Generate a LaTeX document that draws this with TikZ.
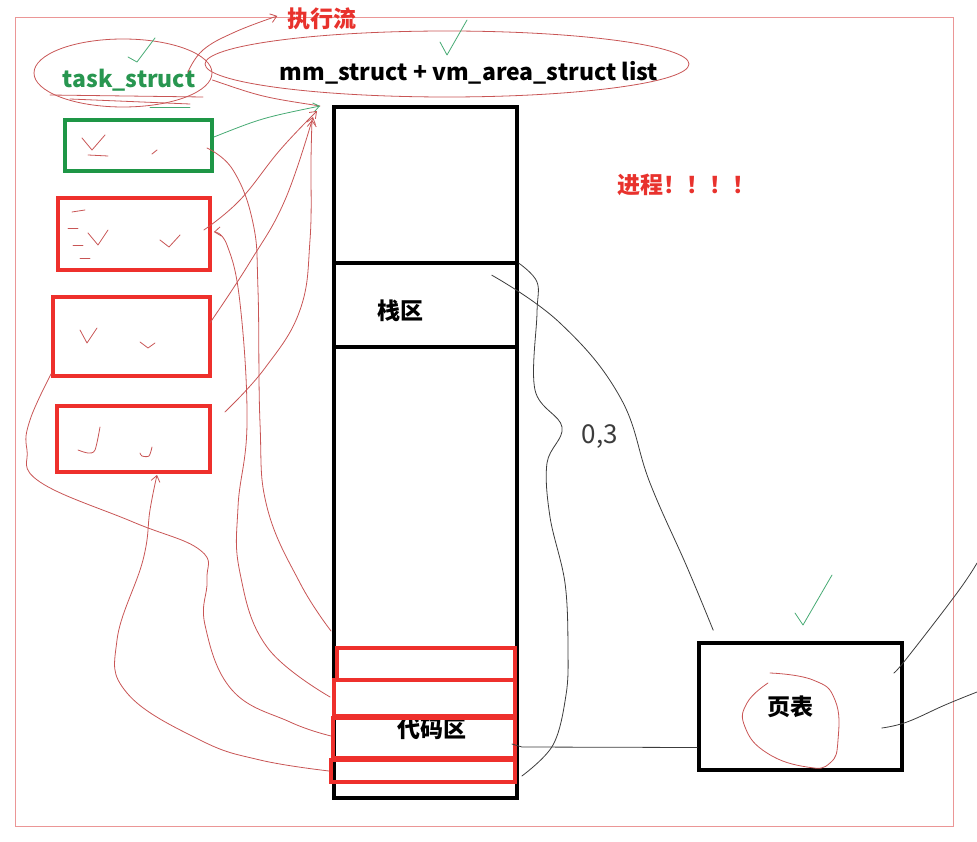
\documentclass[tikz,border=0pt]{standalone}
\usepackage{fontspec}
\setmainfont{Noto Sans CJK SC}
\usetikzlibrary{arrows.meta,shapes.geometric}

\definecolor{boxred}{RGB}{238,48,44}
\definecolor{boxgreen}{RGB}{30,150,70}
\definecolor{textred}{RGB}{232,50,45}
\definecolor{textgreen}{RGB}{40,150,80}
\definecolor{penred}{RGB}{200,85,85}
\definecolor{pengreen}{RGB}{70,170,115}
\definecolor{pengray}{RGB}{60,60,60}
\definecolor{framered}{RGB}{235,150,150}

\begin{document}
\begin{tikzpicture}[x=1pt,y=-1pt,>={Straight Barb[length=6pt,width=9pt]},
  lbl/.style={inner sep=0pt,font=\bfseries\fontsize{23}{26}\selectfont},
  membox/.style={draw=black,line width=3.6pt,inner sep=0pt,minimum width=183pt},
  redbox/.style={draw=boxred,line width=3.8pt,inner sep=0pt},
  pencil/.style={line width=0.8pt,line cap=round,line join=round},
  redink/.style={pencil,draw=penred},
  greenink/.style={pencil,draw=pengreen},
  grayink/.style={pencil,draw=pengray}]
  \useasboundingbox (0,0) rectangle (977,842);
  \node[draw=framered,line width=1pt,inner sep=0pt,minimum width=938pt,minimum height=808pt] (board) at (484,422) {};

  % headings
  \node[lbl,text=textred] (flowlbl) at (322,19) {执行流};
  \node[lbl,text=textred] (proclbl) at (686,185) {进程！！！！};
  \node[lbl,text=textgreen] (tasklbl) at (129,80) {task\_struct};
  \node[lbl] (mmlbl) at (469,73) {mm\_struct + vm\_area\_struct list};
  \node[ellipse,redink,minimum width=178pt,minimum height=68pt] (taskring) at (123,73) {};
  \node[ellipse,redink,minimum width=484pt,minimum height=66pt] (mmring) at (447,64) {};
  \coordinate (mmtip) at (320,106);

  % task boxes
  \node[draw=boxgreen,line width=3.8pt,inner sep=0pt,minimum width=147pt,minimum height=51pt] (tsk) at (138.5,145.5) {};
  \node[redbox,minimum width=152pt,minimum height=72pt] (tskA) at (134,234) {};
  \node[redbox,minimum width=157pt,minimum height=79pt] (tskB) at (131.5,336.5) {};
  \node[redbox,minimum width=153pt,minimum height=66pt] (tskC) at (133.5,439) {};

  % address space
  \node[membox,minimum height=156pt] (memtop) at (425.5,185) {};
  \node[membox,minimum height=84pt] (stack) at (425.5,305) {};
  \node[membox,minimum height=451pt] (memlow) at (425.5,572.5) {};
  \node[lbl] (stacklbl) at (400,311) {栈区};
  \node[lbl] (codelbl) at (432,729) {代码区};
  \node[redbox,minimum width=178pt,minimum height=32pt] (code1) at (426,664) {};
  \node[redbox,minimum width=181pt,minimum height=36pt] (code2) at (424.5,698) {};
  \node[redbox,minimum width=182pt,minimum height=40pt] (code3) at (424,738) {};
  \node[redbox,minimum width=184pt,minimum height=22pt] (code4) at (423,771) {};

  % page table
  \node[membox,minimum width=203pt,minimum height=127pt] (pgtbl) at (800.5,706.5) {};
  \node[lbl] (pgtbllbl) at (790,707) {页表};
  \node[inner sep=0pt,text=pengray,font=\fontsize{26}{28}\selectfont] (ratio) at (600,437) {0,3};
  \coordinate (edgeA) at (977,563);
  \coordinate (edgeB) at (977,692);

  % arrows to mm_struct
  \draw[redink,->] plot[smooth,tension=0.7] coordinates {([xshift=65pt,yshift=1pt]taskring.center) (203,50) (235,32) ([xshift=-10pt,yshift=3pt]flowlbl.west)};
  \draw[redink] ([yshift=-7pt]taskring.east) .. controls (262,97) .. (mmtip);
  \draw[greenink,->] ([yshift=8.5pt]tsk.east) .. controls (262,118) .. (mmtip);
  \draw[redink,->] plot[smooth,tension=0.7] coordinates {([xshift=-8pt,yshift=4pt]tskA.east) (240,200) (280,150) ([xshift=-3pt,yshift=-5pt]mmtip)};
  \draw[redink,->] plot[smooth,tension=0.7] coordinates {([xshift=-2pt,yshift=13.5pt]tskB.east) (250,262) (285,200) ([xshift=-7pt,yshift=-11pt]mmtip)};
  \draw[redink,->] plot[smooth,tension=0.7] coordinates {([xshift=13pt,yshift=27pt]tskC.east) (265,368) (300,310) (310,240) (311,160) ([xshift=-8pt,yshift=-14pt]mmtip)};

  % code to tasks
  \draw[redink] plot[smooth,tension=0.7] coordinates {([xshift=-7pt,yshift=-2.5pt]tsk.east) (233,170) (253,223) (258,290) (260,423) (267,507) (300,583) ([xshift=-4pt,yshift=15pt]code1.north west)};
  \draw[redink,->] plot[smooth,tension=0.7] coordinates {([xshift=-2pt,yshift=1pt]code2.west) (267,647) (240,573) (238,507) (247,423) (240,303) (227,245) ([xshift=2pt,yshift=2pt]tskA.east)};
  \draw[redink] plot[smooth,tension=0.7] coordinates {([yshift=4pt]tskB.south west) (30,420) (27,450) (40,482) (133,522) (200,550) (207,580) (205,625) (232,690) (290,722) ([yshift=2pt]code3.west)};
  \draw[redink,->] plot[smooth,tension=0.7] coordinates {(code4.west) (260,760) (200,740) (127,693) (117,640) (143,560) (150,510) ([xshift=23.5pt,yshift=-1pt]tskC.south)};

  % links to page table
  \draw[grayink] plot[smooth,tension=0.7] coordinates {([xshift=-27pt,yshift=-14pt]stack.north east) (560,323) (620,397) (650,483) (687,567) ([xshift=16pt,yshift=11pt]pgtbl.north west)};
  \draw[grayink] plot[smooth,tension=0.6] coordinates {([yshift=-2pt]stack.north east) (537,282) (537,313) (535,390) (562,427) (547,463) (550,517) (565,583) (568,650) (566,695) (553,745) ([xshift=5pt,yshift=-5pt]code4.east)};
  \draw[grayink] ([xshift=-5pt,yshift=-6pt]code3.east) -- (522,747) -- ([yshift=-41pt]pgtbl.west);
  \draw[grayink] plot[smooth,tension=0.7] coordinates {([xshift=-10pt,yshift=33.5pt]pgtbl.east) (907,658) (957,593) (edgeA)};
  \draw[grayink] plot[smooth,tension=0.7] coordinates {([xshift=-22pt,yshift=-21.5pt]pgtbl.east) (907,722) (945,705) (edgeB)};

  % ticks and scribbles
  \draw[greenink] (128,57) -- (137,62) -- (155,38);
  \draw[greenink] (440,42) -- (447,55) -- (467,20);
  \draw[greenink] (795,613) -- (803,625) -- (832,575);
  \draw[greenink] (150,107) -- (190,107);
  \draw[redink] (50,95) -- (203,97);
  \draw[redink] (70,99) -- (190,104);
  \draw[redink] (82,138) -- (92,150) -- (105,135);
  \draw[redink] (88,155) -- (108,156);
  \draw[redink] (152,154) -- (157,150);
  \draw[redink] (72,212) -- (85,210);
  \draw[redink] (68,228) -- (78,228);
  \draw[redink] (73,245) -- (83,245);
  \draw[redink] (80,258) -- (90,258);
  \draw[redink] (88,233) -- (98,245) -- (108,230);
  \draw[redink] (160,240) -- (169,247) -- (180,235);
  \draw[redink] (80,330) -- (87,343) -- (97,328);
  \draw[redink] (140,342) -- (148,348) -- (155,343);
  \draw[redink] plot[smooth] coordinates {(100,427) (95,450) (88,453) (78,450)};
  \draw[redink] plot[smooth] coordinates {(152,447) (149,456) (142,456) (140,453)};
  \draw[redink] plot[smooth,tension=0.8] coordinates {(770,673) (813,680) (835,700) (838,740) (830,763) (807,767) (767,753) (745,727) (747,703) (768,683)};
\end{tikzpicture}
\end{document}
